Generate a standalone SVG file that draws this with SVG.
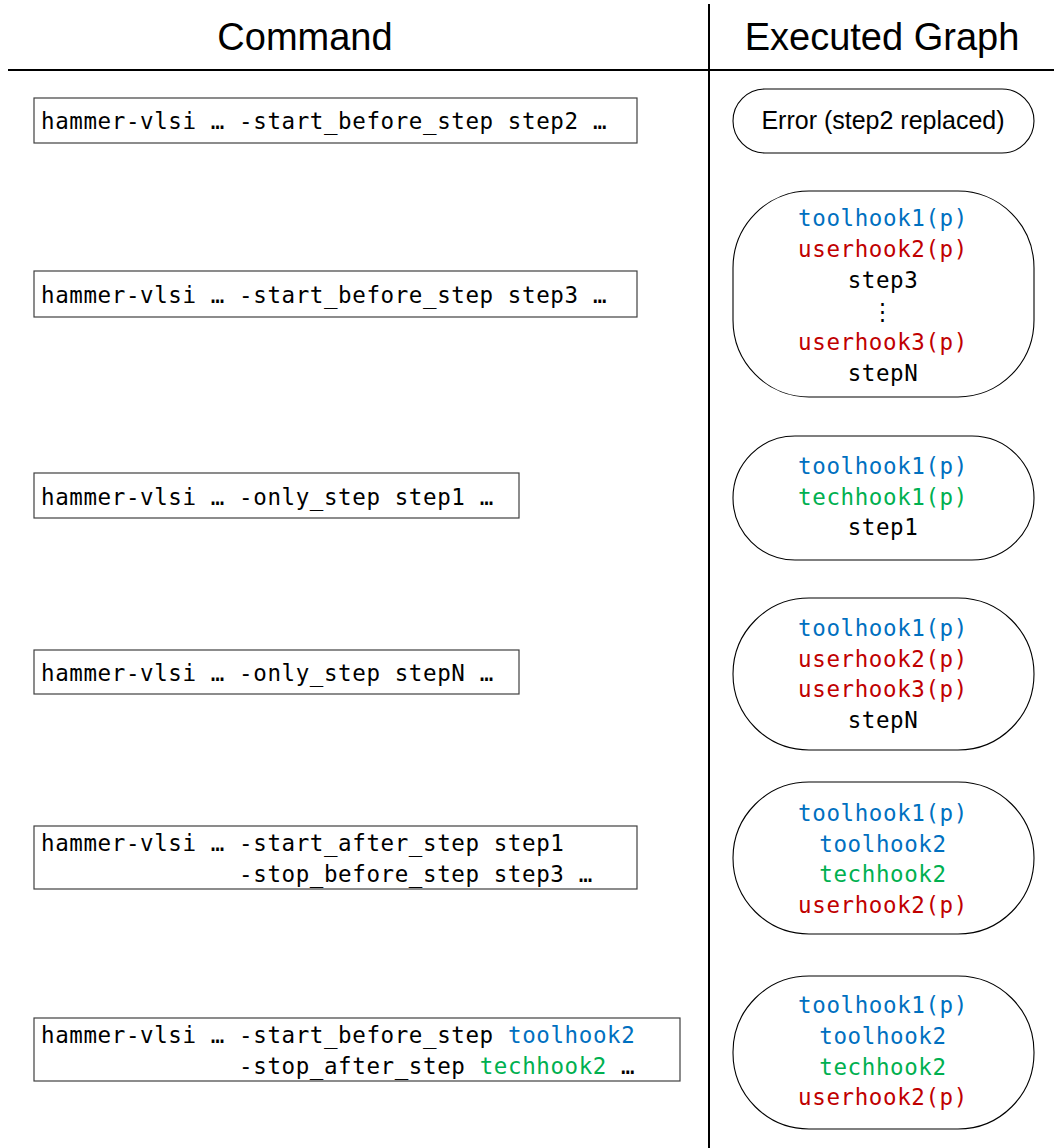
<svg xmlns="http://www.w3.org/2000/svg" width="1054" height="1148" viewBox="0 0 1054 1148">
  <style>
    .hdr { font-family: "Liberation Sans", Arial, sans-serif; font-size: 38px; fill: #000; text-anchor: middle; }
    .err { font-family: "Liberation Sans", Arial, sans-serif; font-size: 25px; fill: #000; text-anchor: middle; }
    .mono { font-family: "DejaVu Sans Mono", "Liberation Mono", monospace; font-size: 22.5px; letter-spacing: 0.6px; fill: #000; }
    .mid { text-anchor: middle; }
    .cmd { fill: #fff; stroke: #404040; stroke-width: 1.2; }
    .term { fill: #fff; stroke: #000; stroke-width: 1.1; }
    .rule { stroke: #000; stroke-width: 2; fill: none; }
    .tool { fill: #0070C0; }
    .user { fill: #C00000; }
    .tech { fill: #00B050; }
  </style>

  <!-- table rules and headings -->
  <g id="table">
    <line class="rule" x1="709" y1="4" x2="709" y2="1148"/>
    <line class="rule" x1="8" y1="70" x2="1054" y2="70"/>
    <text class="hdr" x="305" y="50">Command</text>
    <text class="hdr" x="882" y="50">Executed Graph</text>
  </g>

  <!-- command boxes; fixed 14.15px character grid starting at x=41 -->
  <g id="cmd1">
    <rect class="cmd" x="34" y="98" width="603" height="45"/>
    <text class="mono" y="129"><tspan x="41">hammer-vlsi</tspan><tspan x="210.8">…</tspan><tspan x="239.1">-start_before_step step2</tspan><tspan x="592.9">…</tspan></text>
  </g>
  <g id="cmd2">
    <rect class="cmd" x="34" y="271" width="603" height="46"/>
    <text class="mono" y="303"><tspan x="41">hammer-vlsi</tspan><tspan x="210.8">…</tspan><tspan x="239.1">-start_before_step step3</tspan><tspan x="592.9">…</tspan></text>
  </g>
  <g id="cmd3">
    <rect class="cmd" x="34" y="473" width="485" height="45"/>
    <text class="mono" y="505"><tspan x="41">hammer-vlsi</tspan><tspan x="210.8">…</tspan><tspan x="239.1">-only_step step1</tspan><tspan x="479.7">…</tspan></text>
  </g>
  <g id="cmd4">
    <rect class="cmd" x="34" y="650" width="485" height="44"/>
    <text class="mono" y="681"><tspan x="41">hammer-vlsi</tspan><tspan x="210.8">…</tspan><tspan x="239.1">-only_step stepN</tspan><tspan x="479.7">…</tspan></text>
  </g>
  <g id="cmd5">
    <rect class="cmd" x="34" y="826" width="603" height="63"/>
    <text class="mono" y="851"><tspan x="41">hammer-vlsi</tspan><tspan x="210.8">…</tspan><tspan x="239.1">-start_after_step step1</tspan></text>
    <text class="mono" y="882"><tspan x="239.1">-stop_before_step step3</tspan><tspan x="578.7">…</tspan></text>
  </g>
  <g id="cmd6">
    <rect class="cmd" x="34" y="1018" width="646" height="63"/>
    <text class="mono" y="1043"><tspan x="41">hammer-vlsi</tspan><tspan x="210.8">…</tspan><tspan x="239.1">-start_before_step</tspan><tspan x="508" class="tool">toolhook2</tspan></text>
    <text class="mono" y="1074"><tspan x="239.1">-stop_after_step</tspan><tspan x="479.7" class="tech">techhook2</tspan><tspan x="621">…</tspan></text>
  </g>

  <!-- executed graphs: rounded boxes, corner radius min(h/2, 76) -->
  <g id="graph1">
    <rect class="term" x="733" y="89" width="301" height="64" rx="32" ry="32"/>
    <text class="err" x="883" y="129">Error (step2 replaced)</text>
  </g>
  <g id="graph2">
    <rect class="term" x="733" y="191" width="301" height="206" rx="76" ry="77"/>
    <text class="mono mid tool" x="883" y="226">toolhook1(p)</text>
    <text class="mono mid user" x="883" y="257">userhook2(p)</text>
    <text class="mono mid" x="883" y="288">step3</text>
    <text class="mono mid" x="883" y="319">⋮</text>
    <text class="mono mid user" x="883" y="350">userhook3(p)</text>
    <text class="mono mid" x="883" y="381">stepN</text>
  </g>
  <g id="graph3">
    <rect class="term" x="733" y="436" width="301" height="124" rx="62" ry="62"/>
    <text class="mono mid tool" x="883" y="474">toolhook1(p)</text>
    <text class="mono mid tech" x="883" y="505">techhook1(p)</text>
    <text class="mono mid" x="883" y="535">step1</text>
  </g>
  <g id="graph4">
    <rect class="term" x="733" y="598" width="301" height="152" rx="76" ry="76"/>
    <text class="mono mid tool" x="883" y="636">toolhook1(p)</text>
    <text class="mono mid user" x="883" y="667">userhook2(p)</text>
    <text class="mono mid user" x="883" y="697">userhook3(p)</text>
    <text class="mono mid" x="883" y="728">stepN</text>
  </g>
  <g id="graph5">
    <rect class="term" x="733" y="782" width="301" height="152" rx="76" ry="76"/>
    <text class="mono mid tool" x="883" y="821">toolhook1(p)</text>
    <text class="mono mid tool" x="883" y="852">toolhook2</text>
    <text class="mono mid tech" x="883" y="882">techhook2</text>
    <text class="mono mid user" x="883" y="913">userhook2(p)</text>
  </g>
  <g id="graph6">
    <rect class="term" x="733" y="976" width="301" height="153" rx="76" ry="76"/>
    <text class="mono mid tool" x="883" y="1013">toolhook1(p)</text>
    <text class="mono mid tool" x="883" y="1044">toolhook2</text>
    <text class="mono mid tech" x="883" y="1075">techhook2</text>
    <text class="mono mid user" x="883" y="1105">userhook2(p)</text>
  </g>

  <!-- no connectors in this figure -->
  <g id="connectors"/>
</svg>
